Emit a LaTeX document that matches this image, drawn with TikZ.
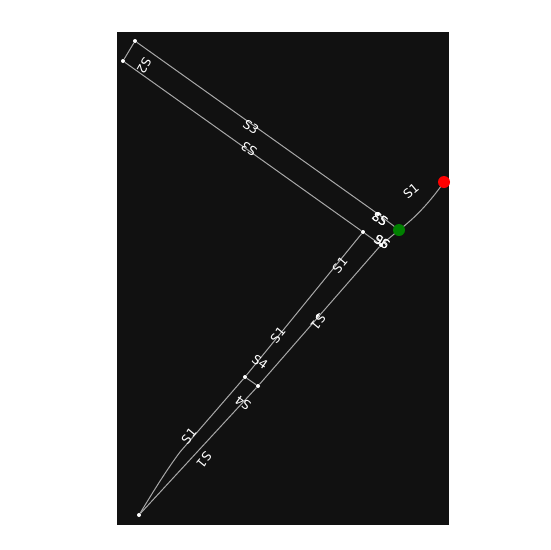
\documentclass[tikz,border=0pt]{standalone}
\usepackage{fontspec}
\setmainfont{DejaVu Sans}
\definecolor{panel}{HTML}{111111}
\definecolor{edge}{HTML}{A8A8A8}
\tikzset{
  px/.style={x=1pt,y=-1pt},
  edgeline/.style={draw=edge,line width=1pt},
  vertex/.style={circle,fill=white,inner sep=0pt,minimum size=4pt},
  lab/.style={text=white,font=\fontsize{12.5}{13}\selectfont,inner sep=0pt},
  startdot/.style={circle,fill=red,inner sep=0pt,minimum size=12pt},
  enddot/.style={circle,fill=green!50!black,inner sep=0pt,minimum size=12pt}
}
\begin{document}
\begin{tikzpicture}[px]
\useasboundingbox (0,0) rectangle (550,550);
\fill[panel] (117,32) rectangle (449,525);
\node[vertex] (a) at (135,41) {};
\node[vertex] (b) at (123,61) {};
\node[vertex] (c) at (378,214) {};
\node[vertex] (d) at (363,232) {};
\node[vertex] (e) at (381,245) {};
\node[vertex] (f) at (245,377) {};
\node[vertex] (g) at (258,386) {};
\node[vertex] (h) at (139,515) {};
\node[vertex] (i) at (318,316) {};
\draw[edgeline] (a) -- (b);
\draw[edgeline] (a) -- (c);
\draw[edgeline] (b) -- (d);
\draw[edgeline] (c) -- (399,230);
\draw[edgeline] (d) -- (e);
\draw[edgeline] (d) -- (f);
\draw[edgeline] (f) -- (g);
\draw[edgeline] (e) -- (399,230);
\draw[edgeline] (e) -- (g);
\draw[edgeline] (f) -- (180,452) .. controls (165,472) and (150,497) .. (h);
\draw[edgeline] (g) -- (h);
\draw[edgeline] (399,230) .. controls (415,218) and (430,202) .. (444,182);
\node[enddot] (green) at (399,230) {};
\node[startdot] (red) at (444,182) {};
\node[lab,rotate=40] (l1) at (411,191) {S1};
\node[lab,rotate=-35] (l2) at (251,127) {S3};
\node[lab,rotate=145] (l3) at (249,149) {S3};
\node[lab,rotate=240] (l4) at (144,66) {S2};
\node[lab,rotate=50] (l5) at (340,265) {S1};
\node[lab,rotate=50] (l6) at (278,335) {S1};
\node[lab,rotate=-35] (l7) at (260,362) {S4};
\node[lab,rotate=145] (l8) at (243,403) {S4};
\node[lab,rotate=50] (l9) at (189,436) {S1};
\node[lab,rotate=230] (l10) at (204,460) {S1};
\node[lab,rotate=230] (l11) at (318,322) {S1};
\node[lab,rotate=-35] (l12) at (380,219) {S5};
\node[lab,rotate=145] (l13) at (380,219) {S3};
\node[lab,rotate=-35] (l14) at (382,242) {S6};
\node[lab,rotate=145] (l15) at (382,242) {S6};
\end{tikzpicture}
\end{document}
